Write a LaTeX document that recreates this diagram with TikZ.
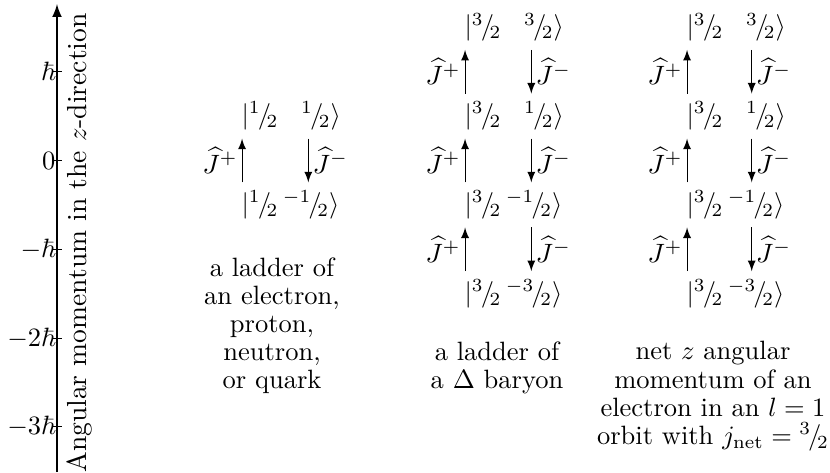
\documentclass[tikz,border=0pt]{standalone}
\usepackage{amsmath,amssymb}
\newcommand{\sh}[1]{{}^{#1}\mkern-2mu/\mkern-3mu{}_{2}}
\newcommand{\kp}[2]{$|\sh{#1}\kern8.5pt\sh{#2}\rangle$}
\newcommand{\kn}[2]{$|\sh{#1}\,\sh{-#2}\rangle$}
\newcommand{\dscfont}{\fontsize{10pt}{10.6pt}\selectfont\lineskiplimit=-10pt\relax}

\begin{document}
\begin{tikzpicture}[x=0.3774pt,y=-0.3774pt,ket/.style ={anchor=west,inner sep=0pt,minimum height=16.6pt},lad/.style ={-latex},jp/.style ={left,inner sep=1.5pt},jm/.style ={right,inner sep=1.5pt},tck/.style ={anchor=east,inner sep=0pt},dsc/.style ={anchor=north,inner sep=0pt,align=center,font=\dscfont}]
\useasboundingbox (0,0) rectangle (830,472);

%axis and ticks
\coordinate (ax0) at (57,472);
\coordinate (ax1) at (57,4);
\draw[line width=.7pt,-latex] (ax0) -- (ax1);
\foreach \y/\t in {71.7/\hbar,160.5/0,249.3/-\hbar,338.1/-2\hbar,426.9/-3\hbar}{
\draw (53,\y) -- (62,\y);
\node[tck] at (56,\y) {$\t$};
}
\node[rotate=90,anchor=base,inner sep=0pt,font=\fontsize{10.4pt}{12pt}\selectfont] at (86,243) (axl) {Angular momentum in the $z$-direction};

%electron ladder
\node[ket] at (241,116.1) (e1) {\kp{1}{1}};
\node[ket] at (241,204.9) (e2) {\kn{1}{1}};
\draw[lad] ([xshift=.4pt]e2.north west) -- ([xshift=.4pt]e1.south west) node[midway,jp] {$\widehat{J}^{+}$};
\draw[lad] ([xshift=25.4pt]e1.south west) -- ([xshift=25.4pt]e2.north west) node[midway,jm] {$\widehat{J}^{-}$};
\node[dsc] at (272,257) (ed) {a ladder of\\an electron,\\proton,\\neutron,\\or quark};

%delta ladder
\node[ket] at (464,27.3) (d1) {\kp{3}{3}};
\node[ket] at (464,116.1) (d2) {\kp{3}{1}};
\node[ket] at (464,204.9) (d3) {\kn{3}{1}};
\node[ket] at (464,293.7) (d4) {\kn{3}{3}};
\foreach \a/\b in {d1/d2,d2/d3,d3/d4}{
\draw[lad] ([xshift=.4pt]\b.north west) -- ([xshift=.4pt]\a.south west) node[midway,jp] {$\widehat{J}^{+}$};
\draw[lad] ([xshift=25.4pt]\a.south west) -- ([xshift=25.4pt]\b.north west) node[midway,jm] {$\widehat{J}^{-}$};
}
\node[dsc] at (497,341) (dd) {a ladder of\\a $\Delta$ baryon};

%net ladder
\node[ket] at (686,27.3) (n1) {\kp{3}{3}};
\node[ket] at (686,116.1) (n2) {\kp{3}{1}};
\node[ket] at (686,204.9) (n3) {\kn{3}{1}};
\node[ket] at (686,293.7) (n4) {\kn{3}{3}};
\foreach \a/\b in {n1/n2,n2/n3,n3/n4}{
\draw[lad] ([xshift=.4pt]\b.north west) -- ([xshift=.4pt]\a.south west) node[midway,jp] {$\widehat{J}^{+}$};
\draw[lad] ([xshift=24.8pt]\a.south west) -- ([xshift=24.8pt]\b.north west) node[midway,jm] {$\widehat{J}^{-}$};
}
\node[dsc] at (713,341) (nd) {net $z$ angular\\momentum of an\\electron in an $l=1$\\orbit with $j_{\mathrm{net}}=\sh3$};
\end{tikzpicture}
\end{document}
